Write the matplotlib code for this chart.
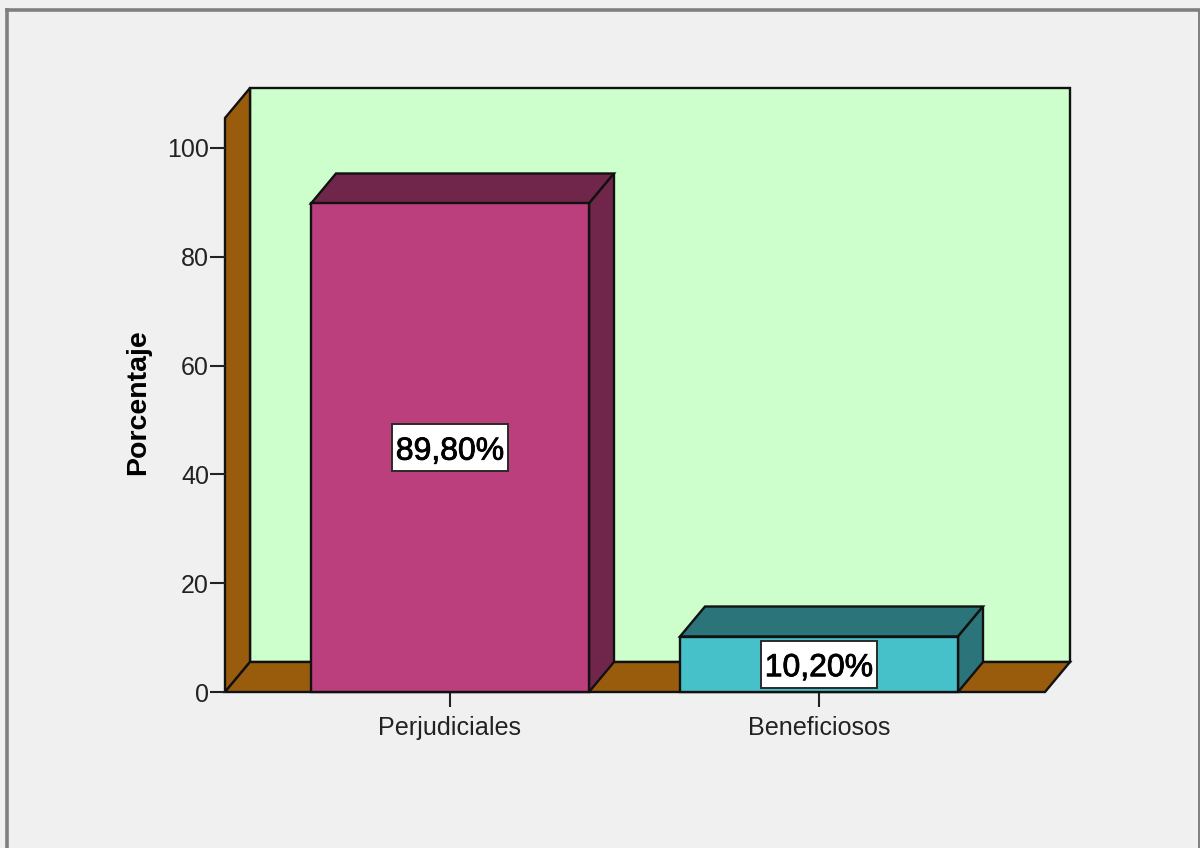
import matplotlib
matplotlib.use("Agg")
import matplotlib.pyplot as plt
import matplotlib.patheffects as pe
from matplotlib.patches import Polygon, Rectangle
from matplotlib.lines import Line2D

categories = ["Perjudiciales", "Beneficiosos"]
values = [89.8, 10.2]
labels = ["89,80%", "10,20%"]
yticks = [0, 20, 40, 60, 80, 100]

W, H = 1200, 848
plt.rcParams['font.family'] = ['Liberation Sans', 'DejaVu Sans']
fig = plt.figure(figsize=(W/100, H/100), dpi=100, facecolor="#f0f0f0")

# frame of the image
for xs, ys, lw in [((7, 7), (848, 10), 2.6), ((7, 1200), (10, 10), 2.6), ((1199, 1199), (10, 848), 1.4)]:
    fig.add_artist(Line2D([x/W for x in xs], [1-y/H for y in ys], color="#7f7f7f", lw=lw))

L, R, T, B = 225, 1045, 118, 692
ax = fig.add_axes([L/W, 1-B/H, (R-L)/W, (B-T)/H])
pxx = 369.0
pxy = 5.44
xmin, xmax = -(450-L)/pxx, (R-450)/pxx
ymin, ymax = 0, (B-T)/pxy
ax.set_xlim(xmin, xmax)
ax.set_ylim(ymin, ymax)
ax.patch.set_visible(False)
dx, dy = 25/pxx, 30/pxy
hw = 139/pxx
box_w, box_h = 116/pxx, 47/pxy

edge = dict(edgecolor="#111111", linewidth=1.7, clip_on=False, joinstyle="miter")
# back wall, side wall, floor
ax.add_patch(Polygon([(xmin+dx, dy), (xmax+dx, dy), (xmax+dx, ymax+dy), (xmin+dx, ymax+dy)],
                     facecolor="#ccffcc", zorder=1, **edge))
ax.add_patch(Polygon([(xmin, 0), (xmin+dx, dy), (xmin+dx, ymax+dy), (xmin, ymax)],
                     facecolor="#995c0d", zorder=1, **edge))
ax.add_patch(Polygon([(xmin, 0), (xmax, 0), (xmax+dx, dy), (xmin+dx, dy)],
                     facecolor="#995c0d", zorder=1, **edge))

front = ["#bb3f7c", "#47c1c9"]
shade = ["#70264b", "#2b7479"]
for i, (v, lab) in enumerate(zip(values, labels)):
    x0, x1 = i-hw, i+hw
    ax.add_patch(Polygon([(x0, v), (x1, v), (x1+dx, v+dy), (x0+dx, v+dy)],
                         facecolor=shade[i], zorder=3, **edge))
    ax.add_patch(Polygon([(x1, 0), (x1+dx, dy), (x1+dx, v+dy), (x1, v)],
                         facecolor=shade[i], zorder=3, **edge))
    ax.add_patch(Polygon([(x0, 0), (x1, 0), (x1, v), (x0, v)],
                         facecolor=front[i], zorder=4, **edge))
    ax.add_patch(Rectangle((i-box_w/2, v/2-box_h/2), box_w, box_h, facecolor="white",
                           edgecolor="#2a2a2a", linewidth=1.4, zorder=5))
    ax.annotate(lab, (i, v/2), xytext=(0, -8.6), textcoords="offset points",
                ha="center", va="baseline", fontsize=23, color="black", zorder=6,
                path_effects=[pe.withStroke(linewidth=0.6, foreground="black")])

for s in ("top", "right", "bottom", "left"):
    ax.spines[s].set_visible(False)
ax.set_xticks(range(len(categories)))
ax.set_xticklabels(categories, fontsize=18.1, color="#222222")
ax.set_yticks(yticks)
ax.set_yticklabels([str(t) for t in yticks], fontsize=18, color="#222222")
ax.tick_params(axis="x", length=11, width=1.5, direction="out", pad=6, color="#222222")
ax.tick_params(axis="y", length=11, width=1.5, direction="out", pad=0.5, color="#222222")
ax.set_ylabel("Porcentaje", fontsize=20.5, fontweight="bold", color="black")
ax.yaxis.set_label_coords((151-L)/(R-L), 1-(402-T)/(B-T))

fig.savefig("out.png", dpi=100, facecolor=fig.get_facecolor())
